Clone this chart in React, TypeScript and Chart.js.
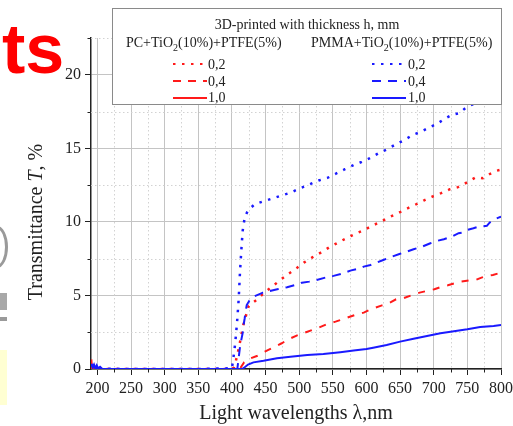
import React, { useEffect, useRef } from "react";
import { Chart, registerables } from "chart.js";
Chart.register(...registerables);

// ---- axis ranges / tick labels ----
const X_MIN = 190.5;
const X_MAX = 800;
const X_STEP = 25;
const X_LABEL_EVERY = 50;
const Y_MIN = 0;
const Y_MAX = 22.5;
const Y_STEP = 2.5;
const Y_LABEL_EVERY = 5;

const X_TITLE = "Light wavelengths λ,nm";
const Y_TITLE_A = "Transmittance ";
const Y_TITLE_T = "T";
const Y_TITLE_B = ", %";
const LEGEND_TITLE = "3D-printed with thickness h, mm";
const THICKNESS_LABELS = ["0,2", "0,4", "1,0"];

// ---- PC+TiO2(10%)+PTFE(5%) ----
const pc02Wl = [191, 193, 200, 250, 300, 350, 400, 403, 405, 408, 411, 414, 417, 421, 425, 438, 449, 461, 472, 484, 496, 507, 520, 532, 545, 558, 571, 583, 597, 608, 622, 634, 647, 659, 671, 685, 698, 711, 724, 736, 746, 763, 773, 784, 793, 800];
const pc02T = [0.3, 0.05, 0, 0, 0, 0, 0, 0.1, 0.4, 0.95, 1.6, 2.3, 3.0, 3.65, 4.3, 4.74, 5.22, 5.65, 6.05, 6.46, 6.85, 7.23, 7.6, 7.91, 8.28, 8.6, 8.91, 9.18, 9.46, 9.73, 10.02, 10.32, 10.59, 10.88, 11.13, 11.45, 11.72, 11.95, 12.22, 12.36, 12.59, 13.04, 12.97, 13.27, 13.47, 13.55];

const pc04Wl = [191, 200, 250, 300, 350, 400, 410, 413, 418, 425, 437, 449, 459, 474, 484, 497, 506, 519, 529, 541, 554, 566, 573, 586, 596, 606, 622, 631, 644, 655, 668, 679, 690, 701, 712, 721, 731, 740, 752, 762, 771, 779, 788, 797, 800];
const pc04T = [0.2, 0, 0, 0, 0, 0, 0, 0.1, 0.45, 0.68, 0.88, 1.18, 1.41, 1.75, 2.02, 2.29, 2.43, 2.65, 2.81, 3.04, 3.22, 3.4, 3.52, 3.72, 3.83, 4.05, 4.31, 4.42, 4.74, 4.81, 5.03, 5.19, 5.31, 5.42, 5.6, 5.69, 5.83, 5.94, 6.01, 6.05, 6.21, 6.33, 6.39, 6.51, 6.5];

const pc10Wl = [191, 192, 200, 250, 300, 350, 400, 412];
const pc10T = [0.65, 0.05, 0, 0, 0, 0, 0, 0];

// ---- PMMA+TiO2(10%)+PTFE(5%) ----
const pmma02Wl = [191, 195, 200, 205, 250, 300, 350, 400, 402, 404, 406, 408, 410, 412, 414, 416, 419, 424, 434, 447, 461, 474, 488, 500, 515, 529, 542, 556, 568, 581, 593, 605, 618, 631, 644, 657, 669, 680, 692, 705, 716, 727, 738, 747, 775, 800];
const pmma02T = [0.3, 0.2, 0.05, 0.02, 0, 0, 0, 0.05, 0.7, 1.4, 2.3, 3.4, 4.7, 6.6, 8.1, 9.4, 10.3, 10.8, 11.2, 11.4, 11.6, 11.8, 12.0, 12.26, 12.54, 12.81, 12.99, 13.31, 13.58, 13.86, 14.08, 14.33, 14.67, 14.94, 15.28, 15.58, 15.92, 16.1, 16.39, 16.67, 17.0, 17.28, 17.39, 17.73, 18.4, 19.0];

const pmma04Wl = [191, 200, 250, 300, 350, 400, 408, 410, 412, 414, 416, 417, 419, 420, 422, 426, 432, 446, 452, 469, 482, 499, 504, 515, 526, 541, 551, 566, 576, 591, 596, 606, 613, 625, 638, 649, 660, 670, 683, 695, 705, 715, 727, 737, 742, 750, 759, 767, 779, 783, 789, 798, 800];
const pmma04T = [0.25, 0, 0, 0, 0, 0, 0, 0.75, 1.5, 2.0, 2.45, 2.9, 3.45, 3.8, 4.35, 4.65, 4.92, 5.19, 5.26, 5.44, 5.56, 5.78, 5.87, 5.94, 6.05, 6.24, 6.33, 6.51, 6.69, 6.85, 6.96, 7.07, 7.19, 7.41, 7.64, 7.82, 7.98, 8.14, 8.32, 8.55, 8.71, 8.82, 9.0, 9.23, 9.27, 9.46, 9.57, 9.68, 9.73, 9.95, 10.14, 10.32, 10.35];

const pmma10Wl = [191, 193, 195, 197, 199, 201, 204, 207, 210, 250, 300, 350, 400, 415, 419, 424, 432, 447, 467, 487, 512, 536, 561, 581, 600, 610, 630, 650, 670, 690, 710, 730, 750, 769, 789, 800];
const pmma10T = [0.35, 0.1, 0.3, 0.05, 0.25, 0.05, 0.15, 0.02, 0, 0, 0, 0, 0, 0, 0.12, 0.3, 0.45, 0.56, 0.73, 0.84, 0.95, 1.02, 1.14, 1.25, 1.36, 1.45, 1.63, 1.86, 2.06, 2.24, 2.43, 2.56, 2.7, 2.86, 2.93, 3.0];

const RED = "#ff1a1a";
const BLUE = "#1a1aff";
const SERIF = '"Liberation Serif", "Times New Roman", serif';

const DOT = [2.5, 6.5];
const DASH_BLUE = [9, 7];
const DASH_RED = [7, 8];

const pts = (xs: number[], ys: number[]) => xs.map((x, i) => ({ x, y: ys[i] }));

const isMultiple = (v: number, m: number) => Math.abs(v / m - Math.round(v / m)) < 1e-6;

const minorPlugin = {
  id: "minorGrid",
  beforeDatasetsDraw(chart: any) {
    const { ctx, chartArea } = chart;
    const xs = chart.scales.x;
    const ys = chart.scales.y;
    ctx.save();
    ctx.lineWidth = 1;
    xs.ticks.forEach((t: any) => {
      if (isMultiple(t.value, X_LABEL_EVERY)) return;
      const px = Math.round(xs.getPixelForValue(t.value)) + 0.5;
      ctx.strokeStyle = "#d2d2d2";
      ctx.setLineDash([1.5, 2.5]);
      ctx.beginPath();
      ctx.moveTo(px, chartArea.top);
      ctx.lineTo(px, chartArea.bottom);
      ctx.stroke();
      ctx.setLineDash([]);
      ctx.strokeStyle = "#222";
      ctx.beginPath();
      ctx.moveTo(px, chartArea.bottom);
      ctx.lineTo(px, chartArea.bottom + 3.5);
      ctx.stroke();
    });
    ys.ticks.forEach((t: any) => {
      if (isMultiple(t.value, Y_LABEL_EVERY)) return;
      const py = Math.round(ys.getPixelForValue(t.value)) + 0.5;
      ctx.strokeStyle = "#d2d2d2";
      ctx.setLineDash([1.5, 2.5]);
      ctx.beginPath();
      ctx.moveTo(chartArea.left, py);
      ctx.lineTo(chartArea.right, py);
      ctx.stroke();
      ctx.setLineDash([]);
      ctx.strokeStyle = "#222";
      ctx.beginPath();
      ctx.moveTo(chartArea.left - 3.5, py);
      ctx.lineTo(chartArea.left, py);
      ctx.stroke();
    });
    ctx.restore();
  },
};

function Sample({ left, top, color, dash }: { left: number; top: number; color: string; dash?: string }) {
  return (
    <svg style={{ position: "absolute", left, top }} width={36} height={6}>
      <line x1={0} y1={3} x2={34} y2={3} stroke={color} strokeWidth={2.2} strokeDasharray={dash} />
    </svg>
  );
}

export default function App() {
  const ref = useRef<HTMLCanvasElement>(null);

  useEffect(() => {
    const line = (label: string, xs: number[], ys: number[], color: string, dash: number[], order: number, width = 2) => ({
      label,
      data: pts(xs, ys),
      borderColor: color,
      backgroundColor: color,
      borderWidth: width,
      borderDash: dash,
      borderCapStyle: "butt",
      pointRadius: 0,
      tension: 0,
      fill: false,
      order,
    });
    const chart = new Chart(ref.current as HTMLCanvasElement, {
      type: "line",
      data: {
        datasets: [
          line("PC 0,2", pc02Wl, pc02T, RED, DOT, 3, 2.5),
          line("PC 0,4", pc04Wl, pc04T, RED, DASH_RED, 4),
          line("PC 1,0", pc10Wl, pc10T, RED, [], 6),
          line("PMMA 0,2", pmma02Wl, pmma02T, BLUE, DOT, 2, 2.5),
          line("PMMA 0,4", pmma04Wl, pmma04T, BLUE, DASH_BLUE, 1),
          line("PMMA 1,0", pmma10Wl, pmma10T, BLUE, [], 0),
        ] as any,
      },
      options: {
        animation: false,
        responsive: false,
        devicePixelRatio: 1,
        layout: { padding: { left: 0, top: 38, right: 12, bottom: 0 } },
        plugins: { legend: { display: false }, tooltip: { enabled: false } },
        scales: {
          x: {
            type: "linear",
            min: X_MIN,
            max: X_MAX,
            afterFit: (s: any) => {
              s.height = 57;
              s.paddingRight = 0;
              s.paddingLeft = 0;
            },
            ticks: {
              stepSize: X_STEP,
              maxTicksLimit: 100,
              includeBounds: false,
              autoSkip: false,
              maxRotation: 0,
              padding: 4,
              color: "#222",
              font: { family: SERIF, size: 16 },
              callback: (v: any) => (isMultiple(Number(v), X_LABEL_EVERY) ? String(v) : ""),
            },
            grid: {
              color: (c: any) => (c.tick && isMultiple(c.tick.value, X_LABEL_EVERY) ? "#c4c4c4" : "rgba(0,0,0,0)"),
              tickColor: (c: any) => (c.tick && isMultiple(c.tick.value, X_LABEL_EVERY) ? "#222" : "rgba(0,0,0,0)"),
              tickLength: 6,
              lineWidth: 1,
            },
            border: { display: true, color: "#222", width: 1.5 },
            title: {
              display: true,
              text: X_TITLE,
              color: "#222",
              font: { family: SERIF, size: 20 },
              padding: { top: 0, bottom: 0 },
            },
          },
          y: {
            type: "linear",
            min: Y_MIN,
            max: Y_MAX,
            afterFit: (s: any) => {
              s.width = 91;
              s.paddingTop = 0;
              s.paddingBottom = 0;
            },
            ticks: {
              stepSize: Y_STEP,
              maxTicksLimit: 100,
              autoSkip: false,
              padding: 4,
              color: "#222",
              font: { family: SERIF, size: 16 },
              callback: (v: any) => (isMultiple(Number(v), Y_LABEL_EVERY) ? String(v) : ""),
            },
            grid: {
              color: (c: any) => (c.tick && isMultiple(c.tick.value, Y_LABEL_EVERY) ? "#c4c4c4" : "rgba(0,0,0,0)"),
              tickColor: (c: any) => (c.tick && isMultiple(c.tick.value, Y_LABEL_EVERY) ? "#222" : "rgba(0,0,0,0)"),
              tickLength: 6,
              lineWidth: 1,
            },
            border: { display: true, color: "#222", width: 1.5 },
          },
        },
      } as any,
      plugins: [minorPlugin],
    });
    return () => chart.destroy();
  }, []);

  const txt: React.CSSProperties = {
    position: "absolute",
    fontFamily: SERIF,
    fontSize: 14,
    lineHeight: "16px",
    color: "#222",
    whiteSpace: "nowrap",
  };
  const rowsTop = [57, 74, 90];
  const sampleTop = [61, 78, 95];
  const dashes = ["2.5 6.5", "9 7", undefined];

  return (
    <div style={{ position: "absolute", left: 0, top: 0, width: 513, height: 426, overflow: "hidden", background: "#fff" }}>
      <canvas ref={ref} width={513} height={426} style={{ position: "absolute", left: 0, top: 0, width: 513, height: 426 }} />

      {/* y-axis title with italic T */}
      <div
        style={{
          position: "absolute",
          left: 35 - 110,
          top: 222 - 12,
          width: 220,
          height: 24,
          lineHeight: "24px",
          textAlign: "center",
          fontFamily: SERIF,
          fontSize: 20,
          color: "#222",
          whiteSpace: "nowrap",
          transform: "rotate(-90deg)",
        }}
      >
        {Y_TITLE_A}
        <i>{Y_TITLE_T}</i>
        {Y_TITLE_B}
      </div>

      {/* slide remnants on the left */}
      <div style={{ position: "absolute", left: 2, top: 13, fontFamily: '"Liberation Sans", Arial, sans-serif', fontWeight: 700, fontSize: 70, lineHeight: "72px", color: "#ff0000" }}>ts</div>
      <div style={{ position: "absolute", left: -14, top: 226, width: 16, height: 36, border: "3px solid #9a9a9a", borderRadius: "50%" }} />
      <div style={{ position: "absolute", left: 0, top: 293, width: 7, height: 17, background: "#a8a8a8" }} />
      <div style={{ position: "absolute", left: 0, top: 317, width: 7, height: 4, background: "#9a9a9a" }} />
      <div style={{ position: "absolute", left: 0, top: 350, width: 7, height: 55, background: "#ffffd2" }} />

      {/* legend */}
      <div style={{ position: "absolute", left: 112, top: 8, width: 388, height: 95, border: "1px solid #8a8a8a", background: "#fff" }} />
      <div style={{ ...txt, left: 112, width: 390, top: 17, textAlign: "center" }}>{LEGEND_TITLE}</div>
      <div style={{ ...txt, left: 126, top: 35 }}>
        PC+TiO<sub style={{ fontSize: 10, lineHeight: 0 }}>2</sub>(10%)+PTFE(5%)
      </div>
      <div style={{ ...txt, left: 311, top: 35 }}>
        PMMA+TiO<sub style={{ fontSize: 10, lineHeight: 0 }}>2</sub>(10%)+PTFE(5%)
      </div>
      {THICKNESS_LABELS.map((l, i) => (
        <React.Fragment key={l}>
          <Sample left={173} top={sampleTop[i]} color={RED} dash={i === 1 ? "8 7" : dashes[i]} />
          <div style={{ ...txt, left: 208, top: rowsTop[i] }}>{l}</div>
          <Sample left={372} top={sampleTop[i]} color={BLUE} dash={dashes[i]} />
          <div style={{ ...txt, left: 408, top: rowsTop[i] }}>{l}</div>
        </React.Fragment>
      ))}
    </div>
  );
}
